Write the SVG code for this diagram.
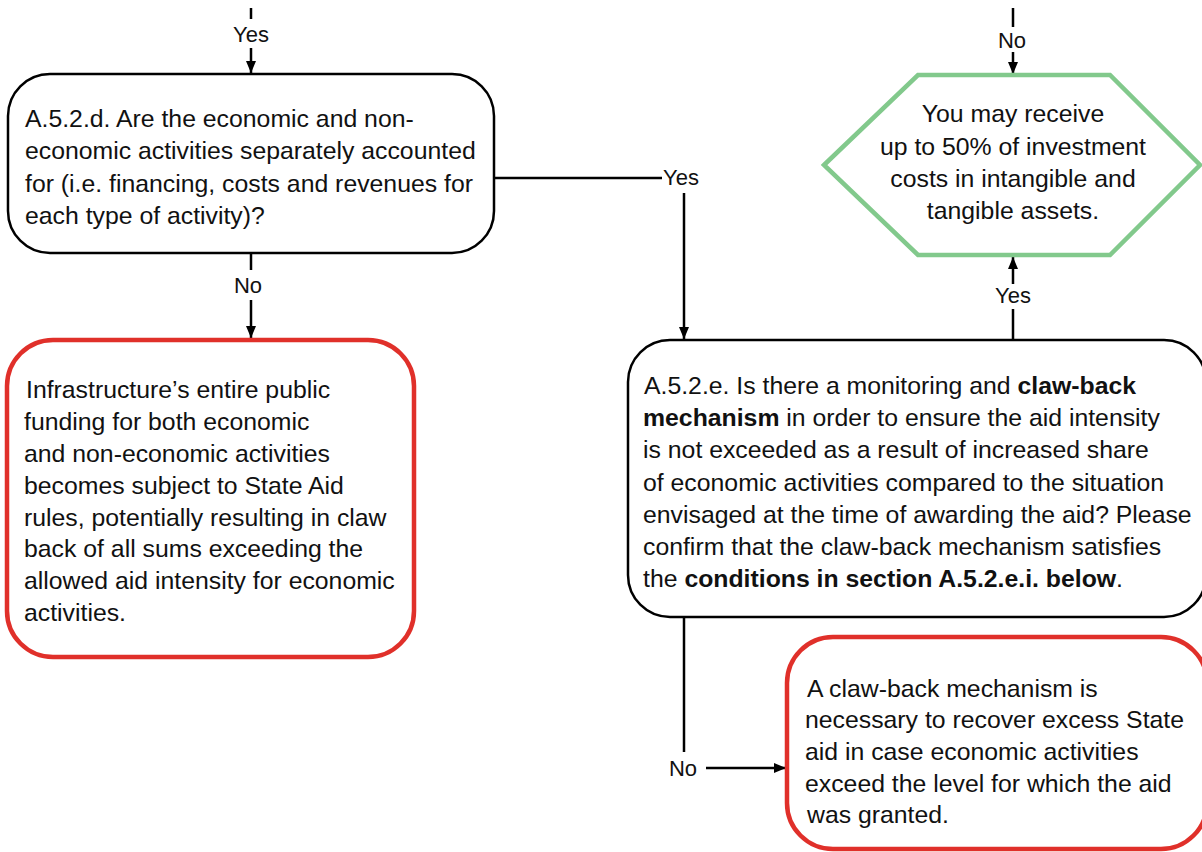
<svg xmlns="http://www.w3.org/2000/svg" width="1202" height="852" viewBox="0 0 1202 852">
  <defs>
    <marker id="arrow" markerUnits="userSpaceOnUse" markerWidth="12" markerHeight="10" refX="12" refY="5" orient="auto">
      <path d="M0,0 L12,5 L0,10 z" fill="#000"/>
    </marker>
    <style>
      .txt { font-family: "Liberation Sans", Arial, sans-serif; font-size: 24.8px; fill: #111; }
      .lbl { font-family: "Liberation Sans", Arial, sans-serif; font-size: 22px; fill: #111; }
      .b { font-weight: bold; }
      .q { fill: #fff; stroke: #000; stroke-width: 2.5; }
      .stop { fill: #fff; stroke: #e0302a; stroke-width: 4.5; }
      .ok { fill: #fff; stroke: #82c98c; stroke-width: 4.5; }
      .ln { fill: none; stroke: #000; stroke-width: 2.5; }
      .arr { fill: none; stroke: #000; stroke-width: 2.5; marker-end: url(#arrow); }
    </style>
  </defs>
  <rect width="1202" height="852" fill="#fff"/>

  <!-- connectors -->
  <g id="connectors">
    <line class="ln" x1="251" y1="8" x2="251" y2="19"/>
    <text class="lbl" x="251" y="42" text-anchor="middle">Yes</text>
    <line class="arr" x1="251" y1="48" x2="251" y2="73"/>

    <line class="ln" x1="251" y1="253" x2="251" y2="270"/>
    <text class="lbl" x="248" y="293" text-anchor="middle">No</text>
    <line class="arr" x1="251" y1="300" x2="251" y2="338"/>

    <line class="ln" x1="494" y1="178" x2="662" y2="178"/>
    <text class="lbl" x="663" y="185">Yes</text>
    <line class="arr" x1="684" y1="193" x2="684" y2="339"/>

    <line class="ln" x1="1013" y1="8" x2="1013" y2="27"/>
    <text class="lbl" x="1012" y="48" text-anchor="middle">No</text>
    <line class="arr" x1="1013" y1="52" x2="1013" y2="74"/>

    <line class="ln" x1="1013" y1="340" x2="1013" y2="309"/>
    <text class="lbl" x="1013" y="303" text-anchor="middle">Yes</text>
    <line class="arr" x1="1013" y1="284" x2="1013" y2="257"/>

    <line class="ln" x1="684" y1="617" x2="684" y2="752"/>
    <text class="lbl" x="683" y="776" text-anchor="middle">No</text>
    <line class="arr" x1="706" y1="768" x2="786" y2="768"/>
  </g>

  <!-- A.5.2.d question -->
  <g id="q-a52d">
    <rect class="q" x="8" y="74" width="486" height="179" rx="42" ry="42"/>
    <text class="txt" x="25" y="127">A.5.2.d. Are the economic and non-</text>
    <text class="txt" x="25" y="159">economic activities separately accounted</text>
    <text class="txt" x="25" y="192">for (i.e. financing, costs and revenues for</text>
    <text class="txt" x="25" y="224">each type of activity)?</text>
  </g>

  <!-- outcome: up to 50% -->
  <g id="ok-50">
    <polygon class="ok" points="824,165 918,75 1110,75 1200,165 1110,255 918,255"/>
    <text class="txt" x="1013" y="122" text-anchor="middle">You may receive</text>
    <text class="txt" x="1013" y="155" text-anchor="middle">up to 50% of investment</text>
    <text class="txt" x="1013" y="187" text-anchor="middle">costs in intangible and</text>
    <text class="txt" x="1013" y="219" text-anchor="middle">tangible assets.</text>
  </g>

  <!-- outcome: whole funding under State Aid rules -->
  <g id="stop-entire">
    <rect class="stop" x="7" y="340" width="407" height="317" rx="46" ry="46"/>
    <text class="txt" x="26" y="398">Infrastructure’s entire public</text>
    <text class="txt" x="24" y="430">funding for both economic</text>
    <text class="txt" x="24" y="462">and non-economic activities</text>
    <text class="txt" x="24" y="494">becomes subject to State Aid</text>
    <text class="txt" x="24" y="526">rules, potentially resulting in claw</text>
    <text class="txt" x="24" y="557">back of all sums exceeding the</text>
    <text class="txt" x="24" y="589">allowed aid intensity for economic</text>
    <text class="txt" x="24" y="621">activities.</text>
  </g>

  <!-- A.5.2.e question -->
  <g id="q-a52e">
    <rect class="q" x="628" y="340" width="578" height="277" rx="42" ry="42"/>
    <text class="txt" x="644" y="394">A.5.2.e. Is there a monitoring and <tspan class="b">claw-back</tspan></text>
    <text class="txt" x="643" y="426"><tspan class="b">mechanism</tspan> in order to ensure the aid intensity</text>
    <text class="txt" x="643" y="458">is not exceeded as a result of increased share</text>
    <text class="txt" x="643" y="491">of economic activities compared to the situation</text>
    <text class="txt" x="643" y="523">envisaged at the time of awarding the aid? Please</text>
    <text class="txt" x="643" y="555">confirm that the claw-back mechanism satisfies</text>
    <text class="txt" x="643" y="587">the <tspan class="b">conditions in section A.5.2.e.i. below</tspan>.</text>
  </g>

  <!-- outcome: claw-back required -->
  <g id="stop-clawback">
    <rect class="stop" x="787" y="637" width="420" height="212" rx="46" ry="46"/>
    <text class="txt" x="807" y="697">A claw-back mechanism is</text>
    <text class="txt" x="805" y="728">necessary to recover excess State</text>
    <text class="txt" x="805" y="760">aid in case economic activities</text>
    <text class="txt" x="805" y="792">exceed the level for which the aid</text>
    <text class="txt" x="807" y="823">was granted.</text>
  </g>
</svg>
